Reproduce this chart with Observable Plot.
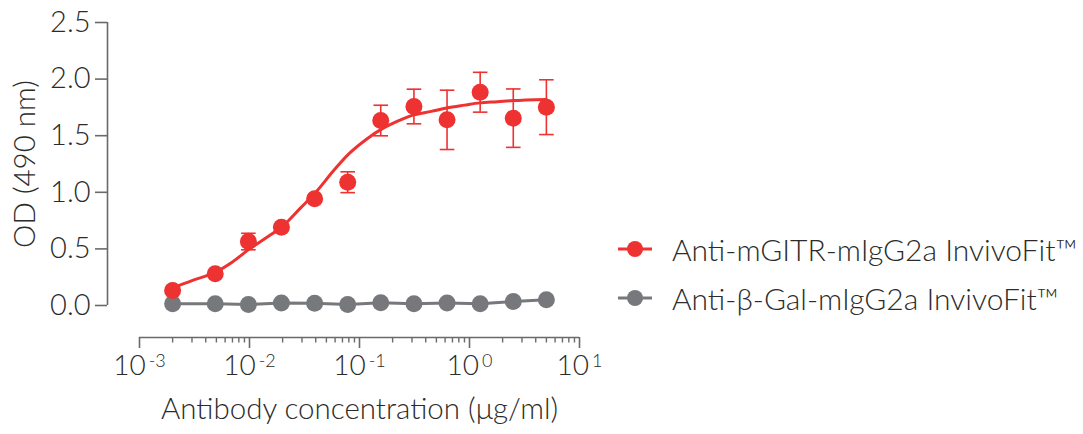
<!DOCTYPE html>
<html>
<head>
<meta charset="utf-8">
<script src="https://cdn.jsdelivr.net/npm/d3@7"></script>
<script src="https://cdn.jsdelivr.net/npm/@observablehq/plot@0.6"></script>
<style>
  html, body { margin: 0; padding: 0; background: #fff; }
  #wrap { position: relative; width: 1083px; height: 434px; font-family: Lato, "DejaVu Sans", sans-serif; font-weight: 300; color: #2b2b2b; }
  #chart { position: absolute; left: 0; top: 0; }
  .lg-row { position: absolute; left: 614px; height: 40px; display: flex; align-items: center; font-size: 30px; white-space: nowrap; }
  .lg-row svg { margin-right: 16px; }
</style>
</head>
<body>
<div id="wrap">
  <div id="chart"></div>
  <div id="legend"></div>
</div>
<script>
// ---- Data ----
const concentrations = [0.002, 0.00488, 0.00977, 0.0195, 0.0391, 0.0781, 0.156, 0.3125, 0.625, 1.25, 2.5, 5];
const gitrOD  = [0.133, 0.28, 0.565, 0.692, 0.943, 1.089, 1.634, 1.758, 1.640, 1.884, 1.655, 1.752];
const gitrErr = [0.02, 0.02, 0.073, 0.02, 0.02, 0.092, 0.135, 0.153, 0.262, 0.176, 0.258, 0.242];
const betaGalOD = [0.015, 0.015, 0.008, 0.022, 0.02, 0.008, 0.025, 0.015, 0.022, 0.015, 0.035, 0.05];

// fitted curve for Anti-mGITR
const fitConc = [0.002, 0.003, 0.0048, 0.007, 0.01, 0.0143, 0.02, 0.029, 0.04, 0.058, 0.08, 0.12, 0.16, 0.23, 0.3, 0.45, 0.62, 0.9, 1.25, 1.8, 2.5, 5];
const fitOD   = [0.155, 0.22, 0.29, 0.385, 0.50, 0.60, 0.70, 0.86, 1.00, 1.19, 1.34, 1.48, 1.56, 1.635, 1.68, 1.715, 1.745, 1.77, 1.79, 1.80, 1.81, 1.82];

const seriesNames = ["Anti-mGITR-mIgG2a InvivoFit™", "Anti-β-Gal-mIgG2a InvivoFit™"];
const seriesColors = ["#ee3131", "#76787b"];

const yTicks = [0, 0.5, 1.0, 1.5, 2.0, 2.5];
const xMajorExp = [-3, -2, -1, 0, 1];
const xMajorTicks = xMajorExp.map(e => 10 ** e);
const xMinorTicks = [];
for (const e of xMajorExp.slice(0, -1)) for (let k = 2; k <= 9; k++) xMinorTicks.push(k * 10 ** e);

const xTitle = "Antibody concentration (μg/ml)";
const yTitle = "OD (490 nm)";

// ---- Tables ----
const gitr = concentrations.map((c, i) => ({c, od: gitrOD[i], lo: gitrOD[i] - gitrErr[i], hi: gitrOD[i] + gitrErr[i]}));
const betaGal = concentrations.map((c, i) => ({c, od: betaGalOD[i]}));
const fit = fitConc.map((c, i) => ({c, od: fitOD[i]}));

// offset (detached) axes: extend domains a little beyond the axis lines
const xMin = 10 ** (-3 - 32 / 110);
const yMin = -32 / 113.2;

const capSymbol = {
  draw(ctx, size) {
    const w = Math.sqrt(size / Math.PI);
    ctx.moveTo(-w, 0); ctx.lineTo(w, 0);
  }
};

const axisColor = "#6a6a6a";
const textColor = "#2b2b2b";

const plot = Plot.plot({
  width: 612,
  height: 434,
  marginLeft: 107,
  marginRight: 33,
  marginTop: 22,
  marginBottom: 97,
  style: {fontFamily: "Lato, 'DejaVu Sans', sans-serif", fontWeight: 300, color: textColor, background: "transparent", overflow: "visible"},
  x: {type: "log", domain: [xMin, xMajorTicks[xMajorTicks.length - 1]]},
  y: {domain: [yMin, yTicks[yTicks.length - 1]]},
  marks: [
    // axes
    Plot.ruleX([xMin], {y1: yTicks[0], y2: yTicks[yTicks.length - 1], stroke: axisColor, strokeWidth: 1.6}),
    Plot.ruleY([yMin], {x1: xMajorTicks[0], x2: xMajorTicks[xMajorTicks.length - 1], stroke: axisColor, strokeWidth: 1.6}),
    Plot.axisY({ticks: yTicks, tickSize: 12, tickPadding: 5, tickFormat: d3.format(".1f"), fontSize: 29, stroke: axisColor, strokeWidth: 1.6, fill: textColor, label: null}),
    Plot.axisX({ticks: xMinorTicks, tickSize: 5.5, tickFormat: () => "", stroke: axisColor, strokeWidth: 1.4, label: null}),
    Plot.axisX({ticks: xMajorTicks, tickSize: 11, tickPadding: 7, tickFormat: d => "10^" + Math.round(Math.log10(d)), fontSize: 28, stroke: axisColor, strokeWidth: 1.6, fill: textColor, label: null}),
    // titles
    Plot.text([xTitle], {x: () => 0.1, y: () => yMin, text: d => d, dy: 72, fontSize: 29.5, fill: textColor, lineAnchor: "middle"}),
    Plot.text([yTitle], {x: () => xMin, y: () => 1.25, text: d => d, dx: -82, rotate: -90, fontSize: 29.5, fill: textColor, lineAnchor: "middle"}),
    // control series
    Plot.line(betaGal, {x: "c", y: "od", stroke: seriesColors[1], strokeWidth: 3}),
    Plot.dot(betaGal, {x: "c", y: "od", r: 8.5, fill: seriesColors[1]}),
    // GITR series
    Plot.line(fit, {x: "c", y: "od", stroke: seriesColors[0], strokeWidth: 3, curve: "catmull-rom"}),
    Plot.ruleX(gitr, {x: "c", y1: "lo", y2: "hi", stroke: seriesColors[0], strokeWidth: 1.6}),
    Plot.dot(gitr, {x: "c", y: "lo", symbol: capSymbol, r: 7.3, stroke: seriesColors[0], strokeWidth: 1.6}),
    Plot.dot(gitr, {x: "c", y: "hi", symbol: capSymbol, r: 7.3, stroke: seriesColors[0], strokeWidth: 1.6}),
    Plot.dot(gitr, {x: "c", y: "od", r: 8.5, fill: seriesColors[0]})
  ]
});

// superscript exponents on the x tick labels
d3.select(plot).selectAll("text").each(function() {
  const t = this.textContent;
  const m = /^10\^(-?\d+)$/.exec(t);
  if (m) {
    const el = d3.select(this);
    el.text("10");
    el.append("tspan").attr("dx", 3).attr("dy", -8).attr("font-size", 18).text(m[1]);
  }
});

document.getElementById("chart").appendChild(plot);

// legend (HTML, beside the chart)
const legend = document.getElementById("legend");
const rowCenters = [249, 298];
seriesNames.forEach((name, i) => {
  const row = document.createElement("div");
  row.className = "lg-row";
  row.style.top = (rowCenters[i] - 20) + "px";
  row.innerHTML = `<svg width="42" height="20"><line x1="4" x2="38" y1="10" y2="10" stroke="${seriesColors[i]}" stroke-width="3"/><circle cx="21" cy="10" r="8" fill="${seriesColors[i]}"/></svg><span>${name}</span>`;
  legend.appendChild(row);
});
</script>
</body>
</html>
